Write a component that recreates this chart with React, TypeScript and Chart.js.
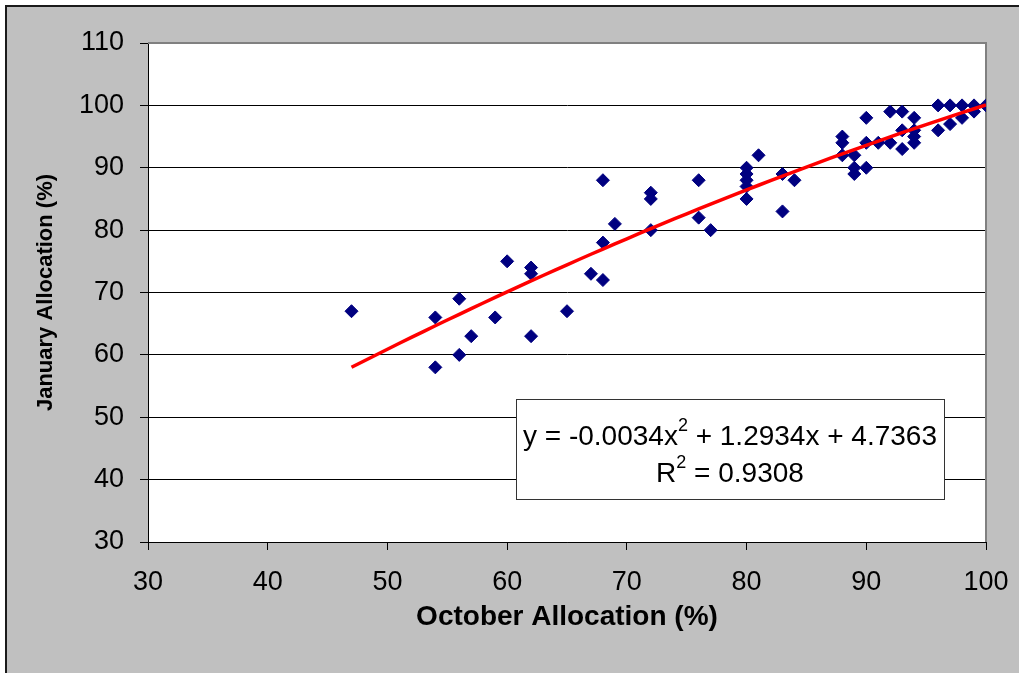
import React, { useEffect, useRef } from "react";
import { Chart, registerables } from "chart.js";

Chart.register(...registerables);

// October vs January allocation, one entry per participant (paired by index)
const octoberPct = [
  47, 54, 54, 56, 56, 57, 59, 60, 62, 62,
  62, 65, 67, 68, 68, 68, 69, 72, 72, 72,
  76, 76, 77, 80, 80, 80, 80, 80, 81, 83,
  83, 84, 88, 88, 88, 89, 89, 89, 90, 90,
  90, 91, 92, 92, 93, 93, 93, 94, 94, 94,
  94, 96, 96, 97, 97, 98, 98, 99, 99, 100,
];
const januaryPct = [
  67, 66, 58, 69, 60, 63, 66, 75, 74, 73,
  63, 67, 73, 88, 78, 72, 81, 86, 85, 80,
  88, 82, 80, 90, 89, 88, 87, 85, 92, 89,
  83, 88, 95, 94, 92, 92, 90, 89, 98, 94,
  90, 94, 99, 94, 99, 96, 93, 98, 96, 95,
  94, 100, 96, 100, 97, 100, 98, 100, 99, 100,
];

// Second-order polynomial trendline: y = a*x^2 + b*x + c
const trendCoeffs = [-0.0034, 1.2934, 4.7363];
const trendRange = [47, 100];

// Axis limits
const xAxisRange = [30, 100];
const yAxisRange = [30, 110];
const tickStep = 10;

// Equation label pieces: [base, superscript, rest]
const equationParts = ["y = -0.0034x", "2", " + 1.2934x + 4.7363"];
const rSquaredParts = ["R", "2", " = 0.9308"];

const FONT = "'Liberation Sans', Arial, Helvetica, sans-serif";

const plotBackground = {
  id: "plotBackground",
  beforeDraw(chart: any) {
    const { ctx, chartArea: a } = chart;
    ctx.save();
    ctx.fillStyle = "#ffffff";
    ctx.fillRect(a.left, a.top, a.right - a.left, a.bottom - a.top);
    ctx.restore();
  },
  beforeDatasetsDraw(chart: any) {
    const { ctx, chartArea: a } = chart;
    ctx.save();
    ctx.strokeStyle = "#808080";
    ctx.lineWidth = 2;
    ctx.beginPath();
    ctx.moveTo(a.left, a.top);
    ctx.lineTo(a.right, a.top);
    ctx.lineTo(a.right, a.bottom);
    ctx.stroke();
    ctx.restore();
  },
};

function drawSuperscriptLine(
  ctx: CanvasRenderingContext2D,
  parts: string[],
  cx: number,
  baseline: number
) {
  const mainFont = `28px ${FONT}`;
  const supFont = `18px ${FONT}`;
  ctx.font = mainFont;
  const w0 = ctx.measureText(parts[0]).width;
  const w2 = ctx.measureText(parts[2]).width;
  ctx.font = supFont;
  const w1 = ctx.measureText(parts[1]).width;
  const total = w0 + w1 + w2;
  let x = cx - total / 2;
  ctx.textAlign = "left";
  ctx.textBaseline = "alphabetic";
  ctx.font = mainFont;
  ctx.fillText(parts[0], x, baseline);
  x += w0;
  ctx.font = supFont;
  ctx.fillText(parts[1], x, baseline - 14);
  x += w1;
  ctx.font = mainFont;
  ctx.fillText(parts[2], x, baseline);
}

const equationBox = {
  id: "equationBox",
  afterDraw(chart: any) {
    const { ctx, chartArea: a } = chart;
    const left = a.left + 368;
    const top = a.top + 356;
    const w = 428;
    const h = 100;
    ctx.save();
    ctx.fillStyle = "#ffffff";
    ctx.fillRect(left, top, w, h);
    ctx.strokeStyle = "#333333";
    ctx.lineWidth = 1;
    ctx.strokeRect(Math.round(left) + 0.5, Math.round(top) + 0.5, w, h);
    ctx.fillStyle = "#000000";
    const cx = left + w / 2;
    drawSuperscriptLine(ctx, equationParts, cx, top + 46);
    drawSuperscriptLine(ctx, rSquaredParts, cx, top + 83);
    ctx.restore();
  },
};

export default function App() {
  const canvasRef = useRef<HTMLCanvasElement>(null);

  useEffect(() => {
    document.body.style.margin = "0";
    document.body.style.overflow = "hidden";
    const canvas = canvasRef.current;
    if (!canvas) return;

    const scatterPoints = octoberPct.map((x, i) => ({ x, y: januaryPct[i] }));
    const [a, b, c] = trendCoeffs;
    const trendPoints: { x: number; y: number }[] = [];
    for (let x = trendRange[0]; x <= trendRange[1]; x += 1) {
      trendPoints.push({ x, y: a * x * x + b * x + c });
    }

    const chart = new Chart(canvas, {
      type: "scatter",
      data: {
        datasets: [
          {
            label: "Trend",
            data: trendPoints,
            showLine: true,
            borderColor: "#ff0000",
            borderWidth: 3.5,
            pointRadius: 0,
            pointHoverRadius: 0,
            fill: false,
            order: 0,
          },
          {
            label: "Allocation",
            data: scatterPoints,
            pointStyle: "rectRot",
            pointRadius: 6.5,
            pointHoverRadius: 6.5,
            backgroundColor: "#000080",
            borderColor: "#000080",
            borderWidth: 1,
            order: 1,
          },
        ],
      },
      options: {
        responsive: false,
        animation: false,
        devicePixelRatio: 1,
        layout: { padding: { top: 43, right: 33, left: 0, bottom: 0 } },
        plugins: {
          legend: { display: false },
          tooltip: { enabled: false },
        },
        scales: {
          x: {
            type: "linear",
            min: xAxisRange[0],
            max: xAxisRange[1],
            ticks: {
              stepSize: tickStep,
              padding: 16,
              color: "#000",
              font: { family: FONT, size: 27 },
            },
            grid: {
              drawOnChartArea: false,
              drawTicks: true,
              tickLength: 8,
              tickColor: "#000",
            },
            border: { color: "#000", width: 1 },
            title: {
              display: true,
              text: "October Allocation (%)",
              color: "#000",
              font: { family: FONT, size: 28, weight: "bold" },
              padding: { top: 0, bottom: 39 },
            },
            afterFit(scale: any) {
              scale.height = 131;
              scale.paddingLeft = 0;
              scale.paddingRight = 0;
            },
          },
          y: {
            type: "linear",
            min: yAxisRange[0],
            max: yAxisRange[1],
            ticks: {
              stepSize: tickStep,
              padding: 16,
              color: "#000",
              font: { family: FONT, size: 27 },
            },
            grid: {
              color: (ctx: any) =>
                ctx.tick && ctx.tick.value === yAxisRange[1] ? "rgba(0,0,0,0)" : "#000",
              tickColor: "#000",
              tickLength: 8,
              lineWidth: 1,
            },
            border: { color: "#000", width: 1 },
            title: {
              display: true,
              text: "January Allocation (%)",
              color: "#000",
              font: { family: FONT, size: 22, weight: "bold" },
              padding: { top: 33, bottom: 0 },
            },
            afterFit(scale: any) {
              scale.width = 148;
              scale.paddingTop = 0;
              scale.paddingBottom = 0;
            },
          },
        },
      },
      plugins: [plotBackground, equationBox],
    });

    return () => chart.destroy();
  }, []);

  return (
    <div
      style={{
        position: "relative",
        width: 1019,
        height: 673,
        overflow: "hidden",
        background: "#ffffff",
      }}
    >
      <div
        style={{
          position: "absolute",
          left: 5,
          top: 5,
          width: 1100,
          height: 760,
          background: "#c0c0c0",
          border: "2px solid #1a1a1a",
        }}
      />
      <canvas
        ref={canvasRef}
        width={1019}
        height={673}
        style={{ position: "absolute", left: 0, top: 0, width: 1019, height: 673 }}
      />
    </div>
  );
}
